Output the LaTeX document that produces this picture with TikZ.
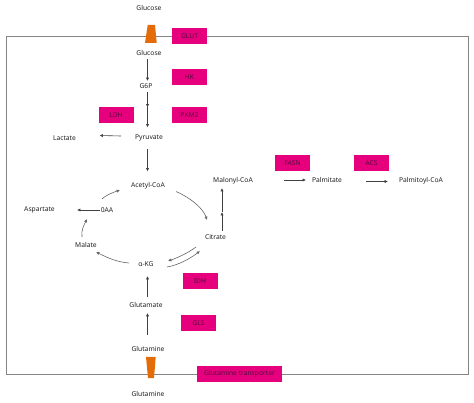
\documentclass[tikz,border=0pt]{standalone}
\usepackage{fontspec}
\setmainfont{Noto Sans}
\usetikzlibrary{arrows.meta}
\definecolor{pinkbox}{HTML}{E6007E}
\definecolor{orangeT}{HTML}{E36C09}
\definecolor{membrane}{HTML}{858585}
\definecolor{labeltxt}{HTML}{222222}
\definecolor{enztxt}{HTML}{5A0A3E}
\tikzset{
  lbl/.style={inner sep=0pt,font=\fontsize{6.7}{8}\selectfont,text=labeltxt},
  enz/.style={fill=pinkbox,inner sep=0pt,minimum height=16pt,minimum width=35pt,font=\fontsize{6.7}{8}\selectfont,text=enztxt},
  arr/.style={draw=black!75,line width=.6pt,-{Latex[length=3.4pt,width=3.2pt]}},
  curved/.style={draw=black!60,line width=.6pt,-{Latex[length=3.4pt,width=3.2pt]}},
  memb/.style={draw=membrane,line width=1pt},
  carrier/.style={fill=orangeT,draw=none}
}
\begin{document}
\begin{tikzpicture}[x=1pt,y=-1pt]
\useasboundingbox (0,0) rectangle (474,403);
\fill[white] (0,0) rectangle (474,403);
\draw[memb] (6.5,36.5) rectangle (468.5,374);
% transporters
\fill[carrier] (147.7,25) -- (155,25) -- (156.7,43) -- (145,43) -- cycle;
\fill[carrier] (146,357) -- (155.7,357) -- (154,378) -- (148,378) -- cycle;
% enzymes
\node[enz] (glut) at (189.5,36) {GLUT};
\node[enz] (hk) at (189.5,77.5) {HK};
\node[enz] (pkm) at (189.5,115) {PKM2};
\node[enz] (ldh) at (116,115) {LDH};
\node[enz] (fasn) at (292.5,163.5) {FASN};
\node[enz] (acs) at (371.5,163.5) {ACS};
\node[enz] (idh) at (200,281) {IDH};
\node[enz] (gls) at (198.5,323.5) {GLS};
\node[enz,minimum width=85pt] (gtr) at (239.5,374) {Glutamine transporter};
% metabolites
\node[lbl] (glucoseout) at (149,8) {Glucose};
\node[lbl] (glucosein) at (149,53) {Glucose};
\node[lbl] (g6p) at (146,86) {G6P};
\node[lbl] (pyr) at (149,137.5) {Pyruvate};
\node[lbl] (lac) at (64.5,138) {Lactate};
\node[lbl] (acoa) at (148,185.5) {Acetyl-CoA};
\node[lbl] (mcoa) at (233,181) {Malonyl-CoA};
\node[lbl] (palm) at (327,180) {Palmitate};
\node[lbl] (pcoa) at (421,180.5) {Palmitoyl-CoA};
\node[lbl] (asp) at (39.5,210) {Aspartate};
\node[lbl] (oaa) at (107,210) {0AA};
\node[lbl] (cit) at (215.5,237.5) {Citrate};
\node[lbl] (mal) at (86,245) {Malate};
\node[lbl] (akg) at (146,264) {α-KG};
\node[lbl] (glu) at (146,304.5) {Glutamate};
\node[lbl] (gln) at (148,349) {Glutamine};
\node[lbl] (glnout) at (148,394) {Glutamine};
\coordinate (m1) at (147.5,107.5);
\coordinate (m2) at (222,212);
% connectors
\draw[arr] ([shift={(-1.5,6)}]glucosein.center) -- ([shift={(1.5,-5)}]g6p.center);
\draw[arr] ([shift={(1.5,6)}]g6p.center) -- (m1);
\draw[arr] (m1) -- ([shift={(-1.5,-10)}]pyr.center);
\draw[arr] ([shift={(-1.5,12)}]pyr.center) -- ([shift={(-.5,-14)}]acoa.center);
\draw[arr] ([shift={(-28,-1.5)}]pyr.center) -- ([shift={(35,-2.5)}]lac.center);
\draw[curved] ([shift={(-5,-11)}]oaa.center) .. controls +(4,-4) and +(-7,2.5) .. ([shift={(-28,4.5)}]acoa.center);
\draw[curved] ([shift={(28,6)}]acoa.center) .. controls +(14,6) and +(-4,-12) .. ([shift={(-8.5,-17.5)}]cit.center);
\draw[curved] ([shift={(-19.5,9.5)}]cit.center) .. controls +(-8,6) and +(9,-3) .. ([shift={(22,-3)}]akg.center);
\draw[curved] ([shift={(21,3)}]akg.center) .. controls +(12,-2) and +(-9,7) .. ([shift={(-15.5,13.5)}]cit.center);
\draw[curved] ([shift={(-17,-1)}]akg.center) .. controls +(-12,-1) and +(12,6) .. ([shift={(10,7)}]mal.center);
\draw[curved] ([shift={(-4,-8)}]mal.center) .. controls +(-1,-7) and +(-3,6) .. ([shift={(-20,9)}]oaa.center);
\draw[arr] ([shift={(-7,0)}]oaa.center) -- ([shift={(37.5,0)}]asp.center);
\draw[arr] ([shift={(6.5,-6.5)}]cit.center) -- (m2);
\draw[arr] (m2) -- ([shift={(-11,7)}]mcoa.center);
\draw[arr] ([shift={(51,-1)}]mcoa.center) -- ([shift={(-21,0)}]palm.center);
\draw[arr] ([shift={(39,1.5)}]palm.center) -- ([shift={(-33,1)}]pcoa.center);
\draw[arr] ([shift={(1.5,-7.5)}]glu.center) -- ([shift={(1.5,12)}]akg.center);
\draw[arr] ([shift={(-.5,-14)}]gln.center) -- ([shift={(1.5,8.5)}]glu.center);
\end{tikzpicture}
\end{document}
